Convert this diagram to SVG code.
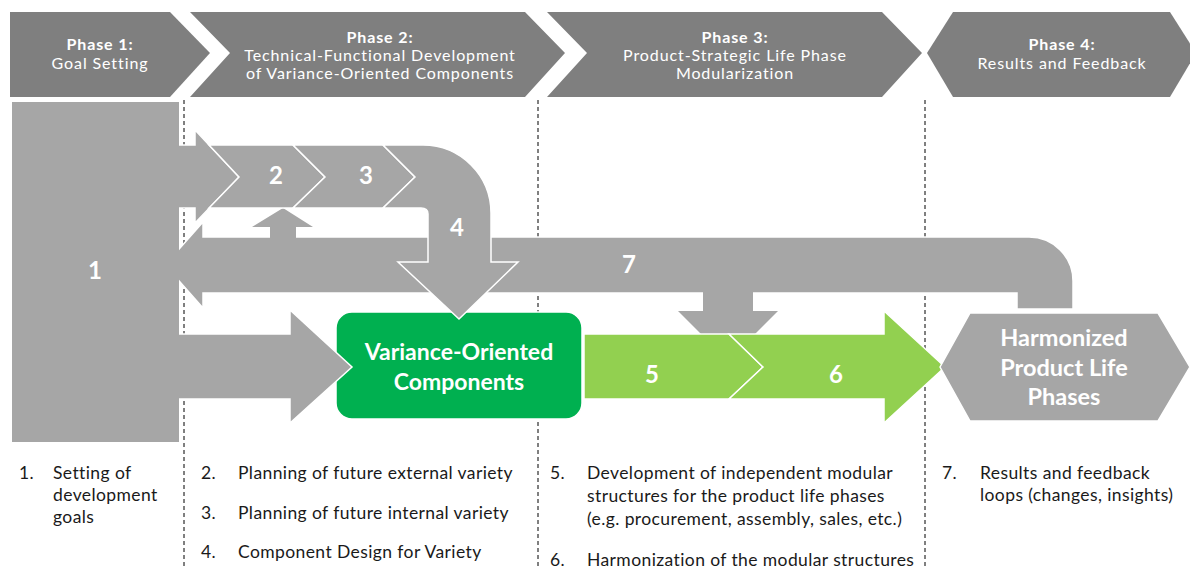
<svg xmlns="http://www.w3.org/2000/svg" width="1190" height="568" viewBox="0 0 1190 568">
<style>
.hdr{fill:#7f7f7f}
.g{fill:#a6a6a6;stroke:#fff;stroke-width:1.5;stroke-linejoin:miter}
.gn{fill:#a6a6a6}
.lg{fill:#92d050;stroke:#fff;stroke-width:1.5}
.dg{fill:#00b050;stroke:#fff;stroke-width:1.5}
.ht{font-family:Lato,"Liberation Sans",sans-serif;font-size:16px;letter-spacing:0.9px;fill:#fff;text-anchor:middle}
.htb{font-weight:bold}
.num{font-family:Lato,"Liberation Sans",sans-serif;font-size:24px;font-weight:bold;fill:#fff;text-anchor:middle}
.bt{font-family:Lato,"Liberation Sans",sans-serif;font-size:23px;font-weight:bold;fill:#fff;text-anchor:middle}
.lt{font-family:Lato,"Liberation Sans",sans-serif;font-size:17.5px;letter-spacing:0.4px;fill:#1a1a1a}
.dash{stroke:#000;stroke-width:1;stroke-dasharray:4 3;fill:none}
</style>
<g id="header">
  <g id="phase1"><polygon class="hdr" points="10,12 170,12 210,53 170,97 10,97"/>
    <text class="ht htb" x="100" y="50">Phase 1:</text>
    <text class="ht" x="100" y="69">Goal Setting</text></g>
  <g id="phase2"><polygon class="hdr" points="190,12 525,12 565,53 525,97 190,97 230,53"/>
    <text class="ht htb" x="380" y="43">Phase 2:</text>
    <text class="ht" x="380" y="61">Technical-Functional Development</text>
    <text class="ht" x="380" y="79">of Variance-Oriented Components</text></g>
  <g id="phase3"><polygon class="hdr" points="547,12 882,12 922,53 882,97 547,97 587,53"/>
    <text class="ht htb" x="735" y="43">Phase 3:</text>
    <text class="ht" x="735" y="61">Product-Strategic Life Phase</text>
    <text class="ht" x="735" y="79">Modularization</text></g>
  <g id="phase4"><polygon class="hdr" points="927,53 953,12 1170,12 1196,53 1170,97 953,97"/>
    <text class="ht htb" x="1062" y="50">Phase 4:</text>
    <text class="ht" x="1062" y="69">Results and Feedback</text></g>
</g>
<g id="separators">
  <line class="dash" x1="184" y1="100" x2="184" y2="568"/>
  <line class="dash" x1="538" y1="100" x2="538" y2="568"/>
  <line class="dash" x1="925" y1="100" x2="925" y2="568"/>
</g>
<g id="connectors">
  <g id="arrow7">
    <path class="g" d="M165,265 L203,222 L203,237 L1029,237 A44,44 0 0 1 1073,281 L1073,309 L1017,309 L1017,293 L203,293 L203,308 Z"/>
    <polygon class="gn" points="270,242 270,227 252,227 283,208 313,227 296,227 296,242"/>
    <polygon class="gn" points="703,290 753,290 753,311 778,311 728,361 678,311 703,311"/>
    <text class="num" x="629" y="273">7</text>
  </g>
  <g id="arrow1to2">
    <polygon class="g" points="170,145 195,145 195,130 239,177 195,223 195,208 170,208"/>
  </g>
</g>
<g id="step2">
  <polygon class="g" points="209,145 293,145 325,177 293,208 209,208 239,177"/>
  <text class="num" x="276" y="184">2</text>
</g>
<g id="step3">
  <polygon class="g" points="293,145 383,145 415,177 383,208 293,208 325,177"/>
  <text class="num" x="366" y="184">3</text>
</g>
<g id="components">
  <rect class="dg" x="336" y="312" width="246" height="107" rx="16" ry="16"/>
  <text class="bt" x="459" y="360">Variance-Oriented</text>
  <text class="bt" x="459" y="390">Components</text>
</g>
<g id="step4">
  <path class="g" d="M383,145 L423,145 A68,68 0 0 1 491,213 L491,262 L518,262 L459,319 L398,262 L428,262 L428,214 Q428,208 421,208 L383,208 L415,177 Z"/>
  <text class="num" x="457" y="236">4</text>
</g>
<g id="arrow1toComponents">
  <polygon class="g" points="170,334 290,334 290,310 352,367 290,423 290,399 170,399"/>
</g>
<g id="node1">
  <rect x="12" y="102" width="167" height="340" fill="#a6a6a6"/>
  <text class="num" x="95" y="279">1</text>
</g>
<g id="step5">
  <polygon class="lg" points="584,334 729,334 763,367 729,399 584,399"/>
  <text class="num" x="652" y="383">5</text>
</g>
<g id="step6">
  <polygon class="lg" points="729,334 884,334 884,311 945,367 884,423 884,399 729,399 763,367"/>
  <text class="num" x="836" y="383">6</text>
</g>
<g id="harmonized">
  <polygon class="g" points="940,367 970,313 1158,313 1190,367 1158,421 970,421"/>
  <text class="bt" x="1064" y="346" style="font-size:23.5px">Harmonized</text>
  <text class="bt" x="1064" y="376" style="font-size:23.5px">Product Life</text>
  <text class="bt" x="1064" y="405" style="font-size:23.5px">Phases</text>
</g>
<g id="legend">
  <text class="lt" x="19" y="479">1.</text>
  <text class="lt" x="53" y="479">Setting of</text>
  <text class="lt" x="53" y="501">development</text>
  <text class="lt" x="53" y="523">goals</text>
  <text class="lt" x="201" y="479">2.</text>
  <text class="lt" x="238" y="479">Planning of future external variety</text>
  <text class="lt" x="201" y="519">3.</text>
  <text class="lt" x="238" y="519">Planning of future internal variety</text>
  <text class="lt" x="201" y="558">4.</text>
  <text class="lt" x="238" y="558">Component Design for Variety</text>
  <text class="lt" x="550" y="479">5.</text>
  <text class="lt" x="587" y="479">Development of independent modular</text>
  <text class="lt" x="587" y="502">structures for the product life phases</text>
  <text class="lt" x="587" y="525">(e.g. procurement, assembly, sales, etc.)</text>
  <text class="lt" x="550" y="566">6.</text>
  <text class="lt" x="587" y="566">Harmonization of the modular structures</text>
  <text class="lt" x="942" y="479">7.</text>
  <text class="lt" x="980" y="479">Results and feedback</text>
  <text class="lt" x="980" y="501">loops (changes, insights)</text>
</g>
</svg>
